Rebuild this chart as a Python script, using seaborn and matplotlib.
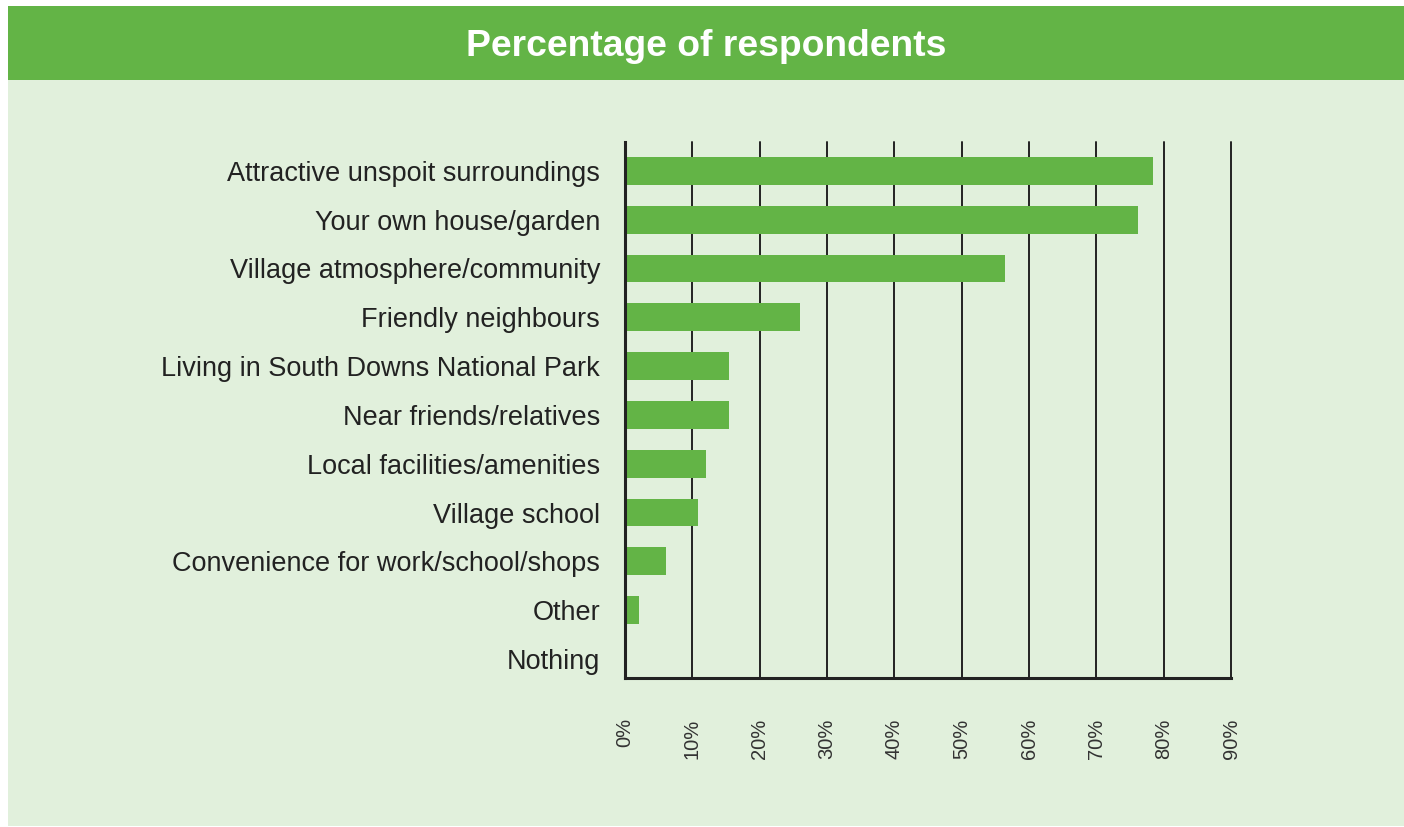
import matplotlib
matplotlib.use("Agg")
import matplotlib.pyplot as plt
import seaborn as sns
import pandas as pd
from matplotlib.patches import Rectangle

categories = [
    "Attractive unspoit surroundings",
    "Your own house/garden",
    "Village atmosphere/community",
    "Friendly neighbours",
    "Living in South Downs National Park",
    "Near friends/relatives",
    "Local facilities/amenities",
    "Village school",
    "Convenience for work/school/shops",
    "Other",
    "Nothing",
]
values = [78.4, 76.2, 56.5, 26.0, 15.5, 15.5, 12.0, 10.9, 6.1, 2.1, 0.0]
tick_values = [0, 10, 20, 30, 40, 50, 60, 70, 80, 90]
tick_labels = ["0%", "10%", "20%", "30%", "40%", "50%", "60%", "70%", "80%", "90%"]
title = "Percentage of respondents"

GREEN = "#63b446"
BG = "#e1f0dc"
DARK = "#222222"

sns.set_theme(style="white")
plt.rcParams["font.family"] = ["Liberation Sans", "DejaVu Sans"]

W, H = 1404, 827
fig = plt.figure(figsize=(W / 100, H / 100), dpi=100, facecolor="white")

# background panel and title band (figure coords)
fig.patches.append(Rectangle((8 / W, 1 - 826 / H), (W - 8) / W, (826 - 80) / H,
                             transform=fig.transFigure, facecolor=BG, edgecolor="none", zorder=-10))
fig.patches.append(Rectangle((8 / W, 1 - 80 / H), (W - 8) / W, (80 - 6) / H,
                             transform=fig.transFigure, facecolor=GREEN, edgecolor="none", zorder=-10))
fig.text((8 + W) / 2 / W, 1 - 46 / H, title, color="white", fontsize=26.8, fontweight="bold",
         ha="center", va="center")

left, right, top, bottom = 625, 1231, 142, 678
ax = fig.add_axes([left / W, 1 - bottom / H, (right - left) / W, (bottom - top) / H])
ax.set_zorder(5)
ax.set_facecolor("none")

df = pd.DataFrame({"category": categories, "value": values})
sns.barplot(data=df, y="category", x="value", order=categories, color=GREEN,
            saturation=1, width=0.57, linewidth=0, edgecolor="none", ax=ax, zorder=3)

ax.set_xlim(0, 90)
ax.set_ylim(10.39, -0.59)
for t in tick_values[1:]:
    ax.axvline(t, color=DARK, lw=1.4, zorder=2, clip_on=False)

ax.set_xticks(tick_values)
ax.set_xticklabels(tick_labels, rotation=90, fontsize=14.5, color="#333333")
ax.tick_params(axis="x", length=0, pad=29)
ax.tick_params(axis="y", length=0, pad=18, labelsize=19.5, labelcolor=DARK)
ax.set_xlabel("")
ax.set_ylabel("")
for s in ["top", "right"]:
    ax.spines[s].set_visible(False)
for s in ["left", "bottom"]:
    ax.spines[s].set_color(DARK)
    ax.spines[s].set_linewidth(2.2)
    ax.spines[s].set_zorder(4)

fig.savefig("out.png", dpi=100, facecolor="white")
